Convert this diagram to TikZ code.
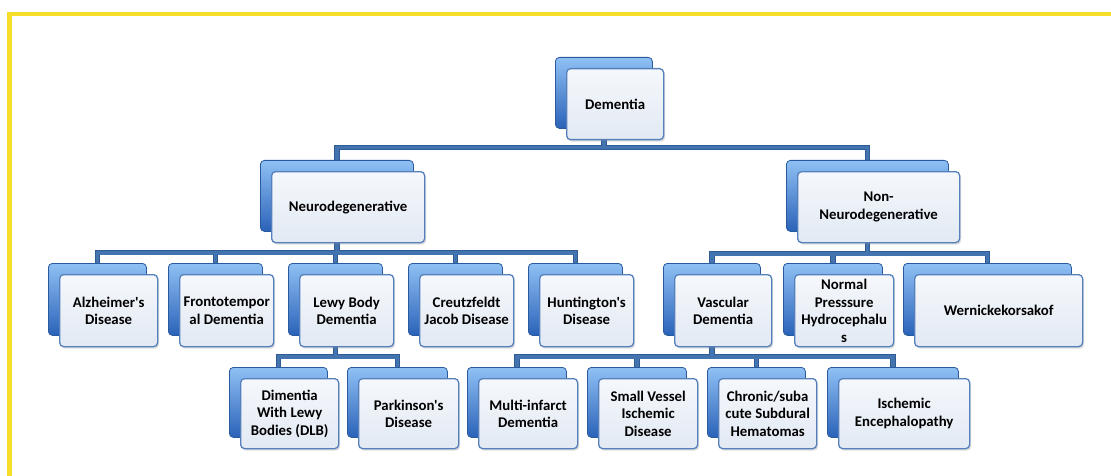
\documentclass[tikz,border=0pt]{standalone}
\usepackage{fontspec}
\newfontfamily\lbl{Carlito}
\usetikzlibrary{calc,shadows,backgrounds}
\definecolor{frameY}{HTML}{F8DC2A}
\definecolor{backTop}{HTML}{8FC0F4}
\definecolor{backBot}{HTML}{2A62B8}
\definecolor{backLine}{HTML}{2A5A9E}
\definecolor{frontTop}{HTML}{F5F8FC}
\definecolor{frontBot}{HTML}{E2E9F3}
\definecolor{frontLine}{HTML}{5680BB}
\definecolor{connDark}{HTML}{2F5C94}
\definecolor{connLight}{HTML}{4474B0}
\tikzset{
  backbox/.style={rectangle, rounded corners=4pt, top color=backTop, bottom color=backBot,
    draw=backLine, line width=0.8pt, inner sep=0pt, anchor=north west},
  frontbox/.style={rectangle, rounded corners=4pt, top color=frontTop, bottom color=frontBot,
    draw=frontLine, line width=1.3pt, inner sep=0pt, anchor=north west, align=center,
    font=\lbl\bfseries\fontsize{14.8}{17.5}\selectfont, text=black,
    drop shadow={opacity=0.25, shadow xshift=1.5pt, shadow yshift=-2pt}},
  connouter/.style={draw=connDark, line width=5.2pt},
  conninner/.style={draw=connLight, line width=3.4pt},
}
% name, back x, back y, width, height, text
\newcommand\tbox[6]{%
  \node[backbox, minimum width=#4pt, minimum height=#5pt] (#1B) at (#2,#3) {};
  \node[frontbox, minimum width=#4pt, minimum height=#5pt] (#1) at ($(#1B.north west)+(11,11)$) {#6};
}
\begin{document}
\begin{tikzpicture}[x=1pt,y=-1pt]
\useasboundingbox (0,0) rectangle (1111,476);

\tbox{dem}{555}{57}{97}{71}{Dementia}
\tbox{neu}{260}{160}{153}{71}{Neurodegenerative}
\tbox{non}{786}{160}{162}{71}{Non-\\Neurodegenerative}

\tbox{alz}{48}{263}{98}{72}{Alzheimer's\\Disease}
\tbox{fro}{168}{263}{94}{72}{Frontotempor\\al Dementia}
\tbox{lew}{288}{263}{94}{72}{Lewy Body\\Dementia}
\tbox{cre}{408}{263}{94}{72}{Creutzfeldt\\Jacob Disease}
\tbox{hun}{528}{263}{94}{72}{Huntington's\\Disease}

\tbox{vas}{663}{263}{97}{72}{Vascular\\Dementia}
\tbox{nph}{783}{263}{99}{72}{Normal\\Presssure\\Hydrocephalu\\s}
\tbox{wer}{903}{263}{168}{72}{Wernickekorsakof}

\tbox{dlb}{229}{367}{98}{70}{Dimentia\\With Lewy\\Bodies (DLB)}
\tbox{par}{347}{367}{100}{70}{Parkinson's\\Disease}
\tbox{mul}{467}{367}{99}{70}{Multi-infarct\\Dementia}
\tbox{sma}{587}{367}{99}{70}{Small Vessel\\Ischemic\\Disease}
\tbox{chr}{707}{367}{98}{70}{Chronic/suba\\cute Subdural\\Hematomas}
\tbox{isc}{827}{367}{131}{70}{Ischemic\\Encephalopathy}

\begin{pgfonlayer}{background}
\fill[white] (0,0) rectangle (1111,476);
\fill[frameY] (7,12) rectangle (1111,16.5);
\fill[frameY] (7,12) rectangle (11.5,476);
\foreach \s in {connouter,conninner}{
  \draw[\s] (demB.south) -- ++(0,19) -| (neuB.north);
  \draw[\s] (demB.south) -- ++(0,19) -| (nonB.north);
  \foreach \c in {alz,fro,lew,cre,hun}
    \draw[\s] (neuB.south) -- ++(0,21) -| (\c B.north);
  \foreach \c in {vas,nph,wer}
    \draw[\s] (nonB.south) -- ++(0,22) -| (\c B.north);
  \foreach \c in {dlb,par}
    \draw[\s] (lewB.south) -- ++(0,21) -| (\c B.north);
  \foreach \c in {mul,sma,chr,isc}
    \draw[\s] (vasB.south) -- ++(0,21) -| (\c B.north);
}
\end{pgfonlayer}
\end{tikzpicture}
\end{document}
